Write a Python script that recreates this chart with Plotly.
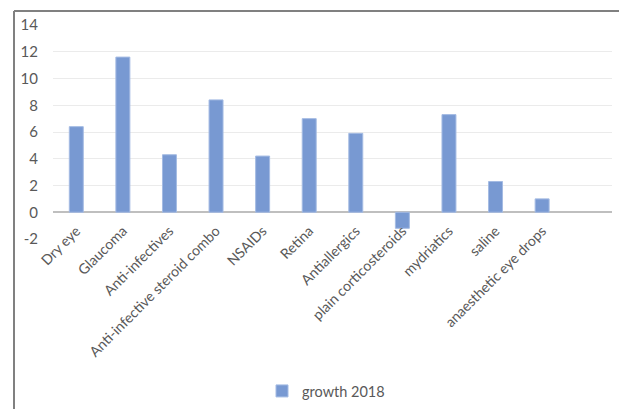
import plotly.graph_objects as go

categories = ["Dry eye", "Glaucoma", "Anti-infectives", "Anti-infective steroid combo",
              "NSAIDs", "Retina", "Antiallergics", "plain corticosteroids",
              "mydriatics", "saline", "anaesthetic eye drops"]
growth_2018 = [6.4, 11.6, 4.3, 8.4, 4.2, 7.0, 5.9, -1.2, 7.3, 2.3, 1.0]
y_ticks = [-2, 0, 2, 4, 6, 8, 10, 12, 14]
y_tick_labels = ["-2", "0", "2", "4", "6", "8", "10", "12", "14"]

W, H = 619, 409
L, R, T, B = 53, 7, 25, 170
pw, ph = W - L - R, H - T - B

def px_x(x):
    return (x - L) / pw

def px_y(y):
    return (H - B - y) / ph

fig = go.Figure()
fig.add_trace(go.Bar(
    x=categories, y=growth_2018, name="growth 2018",
    marker=dict(color="#7899d2", line=dict(color="#a4bbe3", width=1)),
    width=0.3, showlegend=True,
))

fig.update_layout(
    width=W, height=H,
    margin=dict(l=L, r=R, t=T, b=B, autoexpand=False),
    paper_bgcolor="white", plot_bgcolor="white",
    font=dict(family="Lato, Open Sans, sans-serif", color="#595959", size=14),
    showlegend=True,
    legend=dict(orientation="h", x=px_x(262), xanchor="left", y=px_y(391), yanchor="middle",
                font=dict(size=14.5, color="#595959"), itemwidth=30),
    xaxis=dict(
        type="category", range=[-0.5, 11.5], tickangle=-45,
        showgrid=False, showline=False, ticks="", automargin=False,
        anchor="free", position=px_y(212), ticklabelstandoff=7,
        tickfont=dict(size=14.2, color="#595959"),
    ),
    yaxis=dict(
        range=[-2, 14], tickvals=y_ticks, ticktext=y_tick_labels, ticks="",
        showgrid=True, gridcolor="#ebebeb", gridwidth=1, automargin=False,
        zeroline=True, zerolinecolor="#bfbfbf", zerolinewidth=1.5,
        showline=False, ticklabelstandoff=14,
        tickfont=dict(size=15, color="#595959"),
    ),
    shapes=[
        dict(type="line", xref="paper", yref="paper",
             x0=px_x(14), x1=px_x(619), y0=px_y(11), y1=px_y(11),
             line=dict(color="#808080", width=2)),
        dict(type="line", xref="paper", yref="paper",
             x0=px_x(14), x1=px_x(14), y0=px_y(11), y1=px_y(409),
             line=dict(color="#808080", width=2)),
    ],
)

fig.write_html(
    "out.html",
    config={"displayModeBar": False},
    post_script="document.body.style.margin='0';document.body.style.overflow='hidden';",
)
